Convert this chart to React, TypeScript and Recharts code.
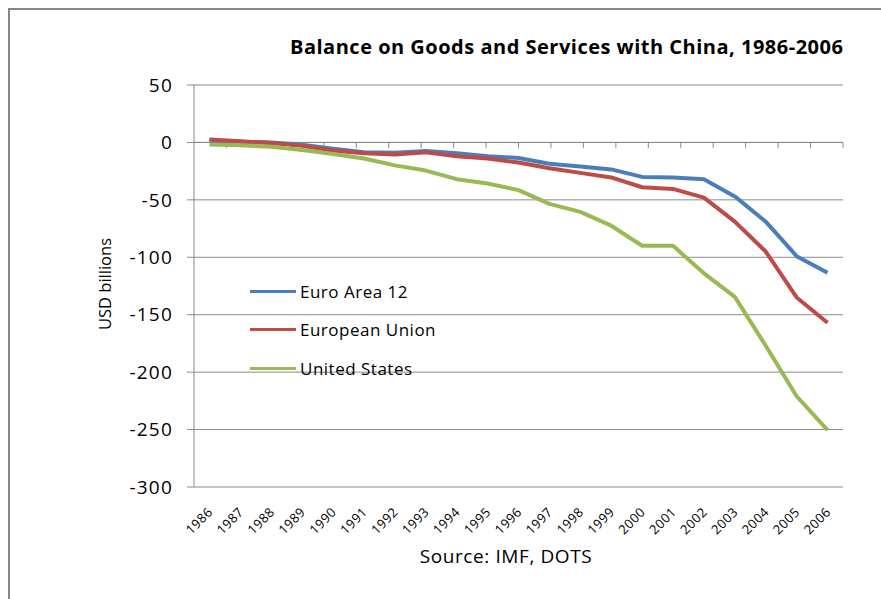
import { LineChart, Line, XAxis, YAxis, CartesianGrid, ReferenceLine } from 'recharts'

const years = [
  '1986', '1987', '1988', '1989', '1990', '1991', '1992', '1993', '1994', '1995', '1996',
  '1997', '1998', '1999', '2000', '2001', '2002', '2003', '2004', '2005', '2006',
]

// USD billions
const euroArea12 = [1.5, 0.5, 0, -2, -5.5, -8.5, -9, -7.5, -9.5, -12, -13.5, -18.5, -21, -23.5, -30, -30.5, -32, -47, -69, -99, -113.5]
const europeanUnion = [2.5, 1, -0.5, -3, -7, -9.5, -10.5, -8.5, -12, -14, -17.5, -22.5, -26.5, -30.5, -39, -40.5, -48, -69, -95, -135, -157]
const unitedStates = [-1.7, -2.5, -3.8, -6.5, -10, -14, -20, -24.5, -32, -35.7, -41.5, -53.5, -60.5, -72.5, -90, -90, -114, -134.5, -177, -221, -250.5]

const yTicks = [50, 0, -50, -100, -150, -200, -250, -300]

const series = [
  { key: 'euro', name: 'Euro Area 12', color: '#4A7EBB' },
  { key: 'eu', name: 'European Union', color: '#BE4B48' },
  { key: 'us', name: 'United States', color: '#98B954' },
]

const data = years.map((year, i) => ({
  year,
  euro: euroArea12[i],
  eu: europeanUnion[i],
  us: unitedStates[i],
}))

const FONT = '"Open Sans", sans-serif'
const GRID = '#8a8a8a'

function YearTick({ x, y, payload }: any) {
  const ax = x + 4
  const ay = y + 26
  return (
    <text
      x={ax}
      y={ay}
      transform={`rotate(-45 ${ax} ${ay})`}
      textAnchor="end"
      fontFamily={FONT}
      fontSize={13}
      letterSpacing={0.4}
      fill="#000"
    >
      {payload.value}
    </text>
  )
}

function LegendBox() {
  return (
    <div style={{ position: 'absolute', left: 250, top: 272, fontFamily: FONT, fontSize: 17, letterSpacing: 0.5, color: '#000' }}>
      {series.map((s) => (
        <div key={s.key} style={{ display: 'flex', alignItems: 'center', height: 38.5, whiteSpace: 'nowrap' }}>
          <div style={{ width: 46, height: 3, background: s.color, marginRight: 4 }} />
          <span>{s.name}</span>
        </div>
      ))}
    </div>
  )
}

export default function App() {
  return (
    <div style={{ position: 'relative', width: 881, height: 599, background: '#fff', overflow: 'hidden' }}>
      <style>{'html,body{margin:0;padding:0;overflow:hidden;}'}</style>
      <div style={{ position: 'absolute', left: 8, top: 8, width: 873, height: 2, background: '#868686' }} />
      <div style={{ position: 'absolute', left: 8, top: 8, width: 2, height: 591, background: '#868686' }} />

      <div
        style={{
          position: 'absolute', left: 290, top: 33, whiteSpace: 'nowrap',
          fontFamily: FONT, fontWeight: 700, fontSize: 20, letterSpacing: 0.5, lineHeight: '28px',
        }}
      >
        Balance on Goods and Services with China, 1986-2006
      </div>

      <div
        style={{
          position: 'absolute', left: 104, top: 284, transform: 'translate(-50%, -50%) rotate(-90deg)',
          whiteSpace: 'nowrap', fontFamily: FONT, fontSize: 16.5,
        }}
      >
        USD billions
      </div>

      <div
        style={{
          position: 'absolute', left: 506, top: 556, transform: 'translate(-50%, -50%)',
          whiteSpace: 'nowrap', fontFamily: FONT, fontSize: 19, letterSpacing: 0.6,
        }}
      >
        Source: IMF, DOTS
      </div>

      <div style={{ position: 'absolute', left: 0, top: 0 }}>
        <LineChart width={881} height={599} data={data} margin={{ top: 85, right: 38, bottom: 52, left: 0 }}>
          <CartesianGrid vertical={false} stroke={GRID} />
          <XAxis
            dataKey="year"
            scale="band"
            height={60}
            axisLine={false}
            tickLine={false}
            tickSize={0}
            tickMargin={0}
            interval={0}
            tick={<YearTick />}
          />
          <XAxis xAxisId="grid" type="number" domain={[0, years.length]} hide />
          <YAxis
            width={194}
            domain={[-300, 50]}
            ticks={yTicks}
            interval={0}
            axisLine={{ stroke: GRID }}
            tickLine={{ stroke: GRID }}
            tickSize={7}
            tickMargin={14}
            tick={{ fontFamily: FONT, fontSize: 19, letterSpacing: 1.2, fill: '#000' }}
          />
          <ReferenceLine y={0} stroke={GRID} />
          {years.map((_, k) => (
            <ReferenceLine
              key={k}
              xAxisId="grid"
              segment={[{ x: k + 1, y: 0 }, { x: k + 1, y: -5 }]}
              stroke={GRID}
            />
          ))}
          {series.map((s) => (
            <Line
              key={s.key}
              type="linear"
              dataKey={s.key}
              name={s.name}
              stroke={s.color}
              strokeWidth={4}
              strokeLinejoin="round"
              dot={false}
              isAnimationActive={false}
            />
          ))}
        </LineChart>
      </div>

      <LegendBox />
    </div>
  )
}
